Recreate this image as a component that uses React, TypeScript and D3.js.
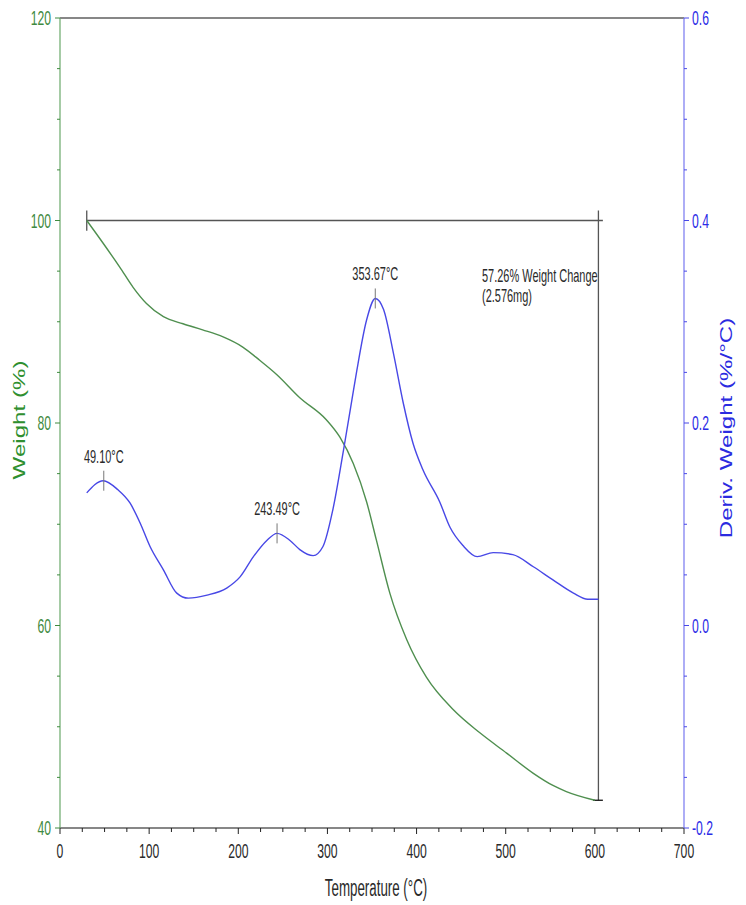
import React from 'react';
import * as d3 from 'd3';

// weight curve (%)
const weightTemps = [30, 48, 67, 82, 97, 116, 138, 160, 183, 205, 224, 243, 269, 299, 314, 329, 344, 355, 370, 389, 411, 441, 471, 501, 531, 553, 568, 600];
const weightValues = [100, 97.8, 95.4, 93.4, 91.8, 90.5, 89.8, 89.2, 88.5, 87.5, 86.2, 84.8, 82.5, 80.3, 78.6, 76.0, 72.2, 68.4, 63.2, 58.6, 54.9, 51.7, 49.4, 47.4, 45.4, 44.2, 43.6, 42.74];

// derivative curve (%/°C)
const derivTemps = [30, 48.5, 65, 78.5, 90, 101, 116, 131, 144, 165, 187, 202, 217, 232, 243.5, 258, 269, 284, 295, 306, 318, 327.5, 333, 344, 353.7, 363, 374, 385, 396, 407, 426, 437.5, 452, 468, 486, 508, 531, 553, 576, 592, 604];
const derivValues = [0.131, 0.143, 0.134, 0.121, 0.101, 0.078, 0.055, 0.032, 0.027, 0.030, 0.037, 0.048, 0.068, 0.084, 0.091, 0.084, 0.075, 0.069, 0.078, 0.114, 0.173, 0.223, 0.252, 0.302, 0.323, 0.312, 0.269, 0.220, 0.180, 0.154, 0.122, 0.097, 0.079, 0.068, 0.072, 0.070, 0.058, 0.045, 0.032, 0.026, 0.026];

const peakTemps = [49.10, 243.49, 353.67];
const peakDerivs = [0.143, 0.091, 0.323];

const xTicks = [0, 100, 200, 300, 400, 500, 600, 700];
const weightTicks = [40, 60, 80, 100, 120];
const derivTicks = [-0.2, 0.0, 0.2, 0.4, 0.6];

const changeStart = 30;
const changeEnd = 604;
const changeFrom = 100;
const changeTo = 42.74;
const changeLabel = '57.26% Weight Change';
const changeMass = '(2.576mg)';

const FONT = '"Liberation Sans", Arial, sans-serif';
const SX = 0.58; // labels in the picture are squeezed sideways

function Txt({ x, y, size, fill, anchor = 'start', sx = SX, rotate = 0, children }: any) {
  const t = rotate ? `translate(${x},${y}) rotate(${rotate}) scale(${sx},1)` : `translate(${x},${y}) scale(${sx},1)`;
  return (
    <g transform={t}>
      <text x={0} y={0} fontSize={size} fill={fill} textAnchor={anchor} fontFamily={FONT}>{children}</text>
    </g>
  );
}

export default function App() {
  const x = d3.scaleLinear().domain([0, 700]).range([60, 684]);
  const yW = d3.scaleLinear().domain([40, 120]).range([828, 18]);
  const yD = d3.scaleLinear().domain([-0.2, 0.6]).range([828, 18]);

  const wLine = d3.line<number>().x((d, i) => x(weightTemps[i])).y(d => yW(d)).curve(d3.curveMonotoneX);
  const dLine = d3.line<number>().x((d, i) => x(derivTemps[i])).y(d => yD(d)).curve(d3.curveMonotoneX);

  const minorX = d3.range(0, 701, 25);
  const minorW = d3.range(40, 121, 5);
  const minorD = d3.range(-0.2, 0.6001, 0.05);

  const green = '#3f8a3f';
  const blue = '#4848e6';
  const ink = '#2a2a2a';

  return (
    <svg width={746} height={905} style={{ position: 'absolute', left: 0, top: 0, background: '#fff' }}>
      {/* frame */}
      <line x1={x(0)} x2={x(700)} y1={yW(120)} y2={yW(120)} stroke="#111" strokeWidth={1.2} />
      <line x1={x(0)} x2={x(700)} y1={yW(40)} y2={yW(40)} stroke="#111" strokeWidth={1.2} />
      <line x1={x(0)} x2={x(0)} y1={yW(120)} y2={yW(40)} stroke="#6aa86a" strokeWidth={1.2} />
      <line x1={x(700)} x2={x(700)} y1={yD(0.6)} y2={yD(-0.2)} stroke="#7777f0" strokeWidth={1.2} />

      {/* bottom ticks */}
      {minorX.map(v => (
        <line key={'bx' + v} x1={x(v)} x2={x(v)} y1={yW(40)} y2={yW(40) + (v % 100 === 0 ? 6 : 4)} stroke="#222" strokeWidth={1} />
      ))}
      {xTicks.map(v => (
        <Txt key={'xl' + v} x={x(v)} y={858} size={21} fill={ink} anchor="middle">{v}</Txt>
      ))}
      <Txt x={376} y={896} size={23} fill={ink} anchor="middle">Temperature (°C)</Txt>

      {/* left axis */}
      {minorW.map(v => (
        <line key={'lw' + v} x1={x(0) - (v % 20 === 0 ? 5 : 3)} x2={x(0)} y1={yW(v)} y2={yW(v)} stroke={green} strokeWidth={1} />
      ))}
      {weightTicks.map(v => (
        <Txt key={'wl' + v} x={51} y={yW(v) + 7} size={21} fill={green} anchor="end">{v}</Txt>
      ))}
      <Txt x={25} y={420} size={17} fill="#2f8f2f" anchor="middle" rotate={-90} sx={1.42}>Weight (%)</Txt>

      {/* right axis */}
      {minorD.map(v => (
        <line key={'rd' + v.toFixed(2)} x1={x(700)} x2={x(700) + (Math.abs(Math.round(v * 100)) % 20 === 0 ? 5 : 3)} y1={yD(v)} y2={yD(v)} stroke={blue} strokeWidth={1} />
      ))}
      {derivTicks.map(v => (
        <Txt key={'dl' + v} x={692} y={yD(v) + 7} size={21} fill="#2b2be6" anchor="start">{v.toFixed(1)}</Txt>
      ))}
      <Txt x={732} y={428} size={17} fill="#2b2be0" anchor="middle" rotate={-90} sx={1.42}>Deriv. Weight (%/°C)</Txt>

      {/* weight change marker */}
      <g stroke="#555" strokeWidth={1.3}>
        <line x1={x(changeStart)} x2={x(changeEnd + 5)} y1={yW(changeFrom)} y2={yW(changeFrom)} />
        <line x1={x(changeStart)} x2={x(changeStart)} y1={yW(changeFrom + 1)} y2={yW(changeFrom - 1)} />
        <line x1={x(changeEnd)} x2={x(changeEnd)} y1={yW(changeFrom + 1)} y2={yW(changeTo)} />
        <line x1={x(changeEnd - 6)} x2={x(changeEnd + 5)} y1={yW(changeTo)} y2={yW(changeTo)} stroke="#111" />
      </g>
      <Txt x={482} y={282} size={18} fill={ink} sx={0.61}>{changeLabel}</Txt>
      <Txt x={482} y={302} size={18} fill={ink} sx={0.61}>{changeMass}</Txt>

      {/* curves */}
      <path d={wLine(weightValues) || ''} fill="none" stroke="#4f8f4f" strokeWidth={1.4} />
      <path d={dLine(derivValues) || ''} fill="none" stroke={blue} strokeWidth={1.4} />

      {/* peak labels */}
      {peakTemps.map((t, i) => (
        <g key={'pk' + i}>
          <line x1={x(t)} x2={x(t)} y1={yD(peakDerivs[i]) - 10} y2={yD(peakDerivs[i]) + 10} stroke="#777" strokeWidth={1} />
          <Txt x={x(t)} y={yD(peakDerivs[i]) - 18} size={18} fill={ink} anchor="middle" sx={0.61}>{t.toFixed(2)}°C</Txt>
        </g>
      ))}
    </svg>
  );
}
